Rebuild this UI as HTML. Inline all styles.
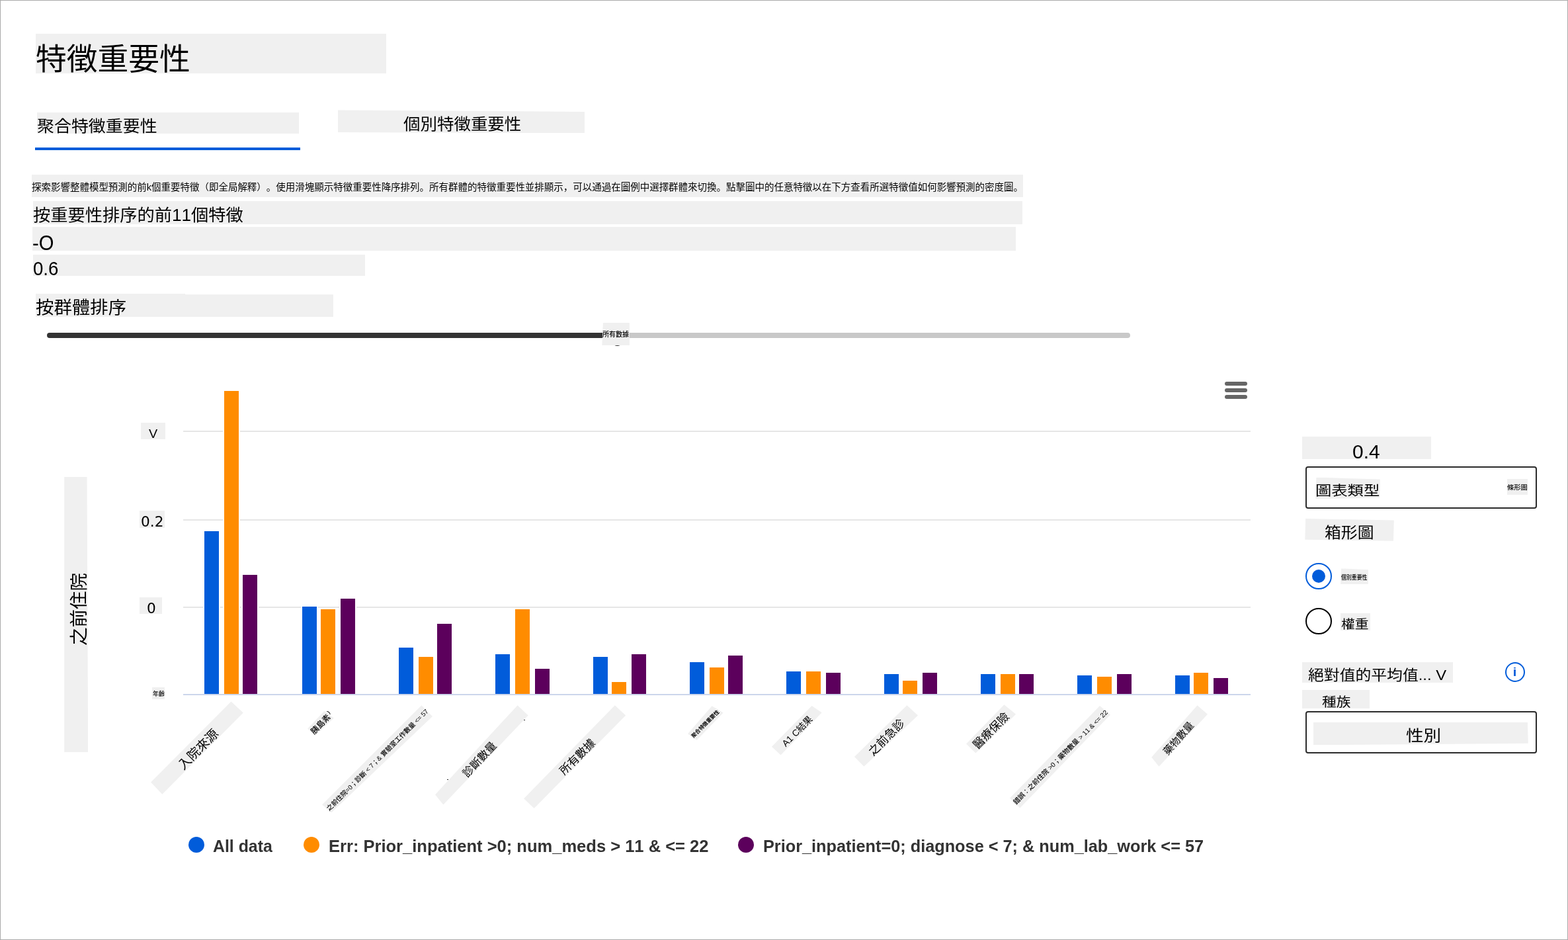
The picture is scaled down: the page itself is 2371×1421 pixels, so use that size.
<!DOCTYPE html>
<html>
<head>
<meta charset="utf-8">
<title>特徵重要性</title>
<style>
html,body{margin:0;padding:0;}
body{width:2371px;height:1421px;overflow:hidden;background:#ffffff;position:relative;font-family:'Liberation Sans', 'Noto Sans CJK JP', sans-serif;color:#000;font-weight:400;text-spacing-trim:space-all;font-kerning:none;}
#frame{position:absolute;left:0;top:0;width:2371px;height:1421px;box-sizing:border-box;border:1px solid #aaa;pointer-events:none;}
.b{position:absolute;}
.t{position:absolute;white-space:nowrap;}
</style>
</head>
<body>
<div class="b" style="left:54.00px;top:51.00px;width:530.00px;height:60.00px;background:#f0f0f0;"></div>
<div class="t" style="left:54.26px;top:66.20px;font-size:46.02px;line-height:46.02px;font-family:'Liberation Sans', 'Noto Sans CJK JP', sans-serif;font-weight:400;transform:scaleX(1.0156);transform-origin:0 0;">特徵重要性</div>
<div class="b" style="left:55.80px;top:170.10px;width:396.20px;height:32.10px;background:#f0f0f0;"></div>
<div class="t" style="left:55.54px;top:178.97px;font-size:24.19px;line-height:24.19px;font-family:'Liberation Sans', 'Noto Sans CJK JP', sans-serif;font-weight:400;transform:scaleX(1.0728);transform-origin:0 0;">聚合特徵重要性</div>
<div class="b" style="left:53.00px;top:223.00px;width:401.00px;height:4.00px;background:#015cda;"></div>
<div class="b" style="left:511.00px;top:166.40px;width:373.10px;height:35.10px;background:#f0f0f0;clip-path:polygon(0.00px 0.00px,373.10px 2.50px,373.10px 35.10px,0.00px 33.70px);"></div>
<div class="t" style="left:609.56px;top:176.42px;font-size:24.06px;line-height:24.06px;font-family:'Liberation Sans', 'Noto Sans CJK JP', sans-serif;font-weight:400;transform:scaleX(1.0592);transform-origin:0 0;">個別特徵重要性</div>
<div class="b" style="left:48.00px;top:264.00px;width:1499.00px;height:34.00px;background:#f0f0f0;"></div>
<div class="t" style="left:48.01px;top:276.37px;font-size:14.21px;line-height:14.21px;font-family:'Liberation Sans', 'Noto Sans CJK JP', sans-serif;font-weight:400;transform:scaleX(1.0197);transform-origin:0 0;">探索影響整體模型預測的前k個重要特徵（即全局解釋）。使用滑塊顯示特徵重要性降序排列。所有群體的特徵重要性並排顯示，可以通過在圖例中選擇群體來切換。點擊圖中的任意特徵以在下方查看所選特徵值如何影響預測的密度圖。</div>
<div class="b" style="left:50.20px;top:304.40px;width:1495.80px;height:34.30px;background:#f0f0f0;"></div>
<div class="t" style="left:49.94px;top:313.34px;font-size:25.21px;line-height:25.21px;font-family:'Liberation Sans', 'Noto Sans CJK JP', sans-serif;font-weight:400;transform:scaleX(1.0411);transform-origin:0 0;">按重要性排序的前11個特徵</div>
<div class="b" style="left:49.00px;top:343.20px;width:1487.00px;height:35.50px;background:#f0f0f0;"></div>
<div class="t" style="left:48.72px;top:351.99px;font-size:31.77px;line-height:31.77px;font-family:'Liberation Sans', 'Noto Sans CJK JP', sans-serif;font-weight:400;transform:scaleX(0.9192);transform-origin:0 0;">-O</div>
<div class="b" style="left:50.00px;top:385.30px;width:501.70px;height:31.70px;background:#f0f0f0;"></div>
<div class="t" style="left:49.61px;top:391.52px;font-size:28.93px;line-height:28.93px;font-family:'Liberation Sans', 'Noto Sans CJK JP', sans-serif;font-weight:400;transform:scaleX(0.9548);transform-origin:0 0;">0.6</div>
<div class="b" style="left:54.10px;top:443.70px;width:449.80px;height:35.20px;background:#f0f0f0;clip-path:polygon(0.00px 0.00px,225.90px 0.00px,225.90px 1.50px,449.80px 1.50px,449.80px 35.20px,0.00px 35.20px);"></div>
<div class="t" style="left:53.52px;top:452.12px;font-size:26.28px;line-height:26.28px;font-family:'Liberation Sans', 'Noto Sans CJK JP', sans-serif;font-weight:400;transform:scaleX(1.0446);transform-origin:0 0;">按群體排序</div>
<div class="b" style="left:71px;top:503px;width:845px;height:8px;background:#333;border-radius:4px 0 0 4px;"></div>
<div class="b" style="left:940px;top:503px;width:769px;height:8px;background:#c8c8c8;border-radius:0 4px 4px 0;"></div>
<div class="b" style="left:927.5px;top:515.5px;width:11px;height:7.5px;background:#333;border-radius:50%;"></div>
<div class="b" style="left:910.30px;top:488.00px;width:41.50px;height:34.00px;background:#f0f0f0;clip-path:polygon(1.60px 0.00px,41.50px 0.00px,41.50px 34.00px,0.00px 34.00px);"></div>
<div class="t" style="left:911.11px;top:501.31px;font-size:10.31px;line-height:10.31px;font-family:'Liberation Sans', 'Noto Sans CJK JP', sans-serif;font-weight:500;transform:scaleX(0.9735);transform-origin:0 0;">所有數據</div>
<div class="b" style="left:277px;top:651px;width:1614px;height:2px;background:#e6e6e6;"></div>
<div class="b" style="left:277px;top:785px;width:1614px;height:2px;background:#e6e6e6;"></div>
<div class="b" style="left:277px;top:917px;width:1614px;height:2px;background:#e6e6e6;"></div>
<div class="b" style="left:307px;top:801px;width:26px;height:248px;background:#ffffff;"></div>
<div class="b" style="left:337px;top:589px;width:26px;height:460px;background:#ffffff;"></div>
<div class="b" style="left:365px;top:867px;width:26px;height:182px;background:#ffffff;"></div>
<div class="b" style="left:309px;top:803px;width:22px;height:246px;background:#015cda;"></div>
<div class="b" style="left:339px;top:591px;width:22px;height:458px;background:#ff8c00;"></div>
<div class="b" style="left:367px;top:869px;width:22px;height:180px;background:#5c005c;"></div>
<div class="b" style="left:455px;top:915px;width:26px;height:134px;background:#ffffff;"></div>
<div class="b" style="left:483px;top:919px;width:26px;height:130px;background:#ffffff;"></div>
<div class="b" style="left:513px;top:903px;width:26px;height:146px;background:#ffffff;"></div>
<div class="b" style="left:457px;top:917px;width:22px;height:132px;background:#015cda;"></div>
<div class="b" style="left:485px;top:921px;width:22px;height:128px;background:#ff8c00;"></div>
<div class="b" style="left:515px;top:905px;width:22px;height:144px;background:#5c005c;"></div>
<div class="b" style="left:601px;top:977px;width:26px;height:72px;background:#ffffff;"></div>
<div class="b" style="left:631px;top:991px;width:26px;height:58px;background:#ffffff;"></div>
<div class="b" style="left:659px;top:941px;width:26px;height:108px;background:#ffffff;"></div>
<div class="b" style="left:603px;top:979px;width:22px;height:70px;background:#015cda;"></div>
<div class="b" style="left:633px;top:993px;width:22px;height:56px;background:#ff8c00;"></div>
<div class="b" style="left:661px;top:943px;width:22px;height:106px;background:#5c005c;"></div>
<div class="b" style="left:747px;top:987px;width:26px;height:62px;background:#ffffff;"></div>
<div class="b" style="left:777px;top:919px;width:26px;height:130px;background:#ffffff;"></div>
<div class="b" style="left:807px;top:1009px;width:26px;height:40px;background:#ffffff;"></div>
<div class="b" style="left:749px;top:989px;width:22px;height:60px;background:#015cda;"></div>
<div class="b" style="left:779px;top:921px;width:22px;height:128px;background:#ff8c00;"></div>
<div class="b" style="left:809px;top:1011px;width:22px;height:38px;background:#5c005c;"></div>
<div class="b" style="left:895px;top:991px;width:26px;height:58px;background:#ffffff;"></div>
<div class="b" style="left:923px;top:1029px;width:26px;height:20px;background:#ffffff;"></div>
<div class="b" style="left:953px;top:987px;width:26px;height:62px;background:#ffffff;"></div>
<div class="b" style="left:897px;top:993px;width:22px;height:56px;background:#015cda;"></div>
<div class="b" style="left:925px;top:1031px;width:22px;height:18px;background:#ff8c00;"></div>
<div class="b" style="left:955px;top:989px;width:22px;height:60px;background:#5c005c;"></div>
<div class="b" style="left:1041px;top:999px;width:26px;height:50px;background:#ffffff;"></div>
<div class="b" style="left:1071px;top:1007px;width:26px;height:42px;background:#ffffff;"></div>
<div class="b" style="left:1099px;top:989px;width:26px;height:60px;background:#ffffff;"></div>
<div class="b" style="left:1043px;top:1001px;width:22px;height:48px;background:#015cda;"></div>
<div class="b" style="left:1073px;top:1009px;width:22px;height:40px;background:#ff8c00;"></div>
<div class="b" style="left:1101px;top:991px;width:22px;height:58px;background:#5c005c;"></div>
<div class="b" style="left:1187px;top:1013px;width:26px;height:36px;background:#ffffff;"></div>
<div class="b" style="left:1217px;top:1013px;width:26px;height:36px;background:#ffffff;"></div>
<div class="b" style="left:1247px;top:1015px;width:26px;height:34px;background:#ffffff;"></div>
<div class="b" style="left:1189px;top:1015px;width:22px;height:34px;background:#015cda;"></div>
<div class="b" style="left:1219px;top:1015px;width:22px;height:34px;background:#ff8c00;"></div>
<div class="b" style="left:1249px;top:1017px;width:22px;height:32px;background:#5c005c;"></div>
<div class="b" style="left:1335px;top:1017px;width:26px;height:32px;background:#ffffff;"></div>
<div class="b" style="left:1363px;top:1027px;width:26px;height:22px;background:#ffffff;"></div>
<div class="b" style="left:1393px;top:1015px;width:26px;height:34px;background:#ffffff;"></div>
<div class="b" style="left:1337px;top:1019px;width:22px;height:30px;background:#015cda;"></div>
<div class="b" style="left:1365px;top:1029px;width:22px;height:20px;background:#ff8c00;"></div>
<div class="b" style="left:1395px;top:1017px;width:22px;height:32px;background:#5c005c;"></div>
<div class="b" style="left:1481px;top:1017px;width:26px;height:32px;background:#ffffff;"></div>
<div class="b" style="left:1511px;top:1017px;width:26px;height:32px;background:#ffffff;"></div>
<div class="b" style="left:1539px;top:1017px;width:26px;height:32px;background:#ffffff;"></div>
<div class="b" style="left:1483px;top:1019px;width:22px;height:30px;background:#015cda;"></div>
<div class="b" style="left:1513px;top:1019px;width:22px;height:30px;background:#ff8c00;"></div>
<div class="b" style="left:1541px;top:1019px;width:22px;height:30px;background:#5c005c;"></div>
<div class="b" style="left:1627px;top:1019px;width:26px;height:30px;background:#ffffff;"></div>
<div class="b" style="left:1657px;top:1021px;width:26px;height:28px;background:#ffffff;"></div>
<div class="b" style="left:1687px;top:1017px;width:26px;height:32px;background:#ffffff;"></div>
<div class="b" style="left:1629px;top:1021px;width:22px;height:28px;background:#015cda;"></div>
<div class="b" style="left:1659px;top:1023px;width:22px;height:26px;background:#ff8c00;"></div>
<div class="b" style="left:1689px;top:1019px;width:22px;height:30px;background:#5c005c;"></div>
<div class="b" style="left:1775px;top:1019px;width:26px;height:30px;background:#ffffff;"></div>
<div class="b" style="left:1803px;top:1015px;width:26px;height:34px;background:#ffffff;"></div>
<div class="b" style="left:1833px;top:1023px;width:26px;height:26px;background:#ffffff;"></div>
<div class="b" style="left:1777px;top:1021px;width:22px;height:28px;background:#015cda;"></div>
<div class="b" style="left:1805px;top:1017px;width:22px;height:32px;background:#ff8c00;"></div>
<div class="b" style="left:1835px;top:1025px;width:22px;height:24px;background:#5c005c;"></div>
<div class="b" style="left:277px;top:1049px;width:1614px;height:2px;background:#ccd6eb;"></div>
<div class="b" style="left:213.10px;top:639.00px;width:36.70px;height:25.00px;background:#f0f0f0;"></div>
<div class="t" style="left:225.30px;top:646.00px;font-size:19.20px;line-height:19.20px;font-family:'Liberation Sans', 'Noto Sans CJK JP', sans-serif;font-weight:400;transform:scaleX(1.0317);transform-origin:0 0;">V</div>
<div class="b" style="left:211.00px;top:771.50px;width:38.00px;height:26.00px;background:#f0f0f0;"></div>
<div class="t" style="left:212.86px;top:778.62px;font-size:20.90px;line-height:20.90px;font-family:'DejaVu Sans', 'Liberation Sans', sans-serif;font-weight:400;transform:scaleX(1.0352);transform-origin:0 0;">0.2</div>
<div class="b" style="left:210.90px;top:902.70px;width:34.20px;height:25.10px;background:#f0f0f0;"></div>
<div class="t" style="left:221.53px;top:910.04px;font-size:20.46px;line-height:20.46px;font-family:'DejaVu Sans', 'Liberation Sans', sans-serif;font-weight:400;transform:scaleX(1.0596);transform-origin:0 0;">0</div>
<div class="b" style="left:230.30px;top:1038.90px;width:18.60px;height:18.10px;background:#f0f0f0;"></div>
<div class="t" style="left:230.98px;top:1044.53px;font-size:8.71px;line-height:8.71px;font-family:'Liberation Sans', 'Noto Sans CJK JP', sans-serif;font-weight:500;transform:scaleX(1.0260);transform-origin:0 0;">年齡</div>
<div class="b" style="left:97.20px;top:721.00px;width:36.00px;height:416.00px;background:#f0f0f0;clip-path:polygon(0.00px 0.00px,34.30px 0.00px,36.00px 416.00px,0.00px 416.00px);"></div>
<div class="t" style="left:120.24px;top:920.70px;font-size:27.42px;line-height:27.42px;transform:translate(-50%,-50%) rotate(-90deg);transform-origin:50% 50%;font-family:'Liberation Sans', 'Noto Sans CJK JP', sans-serif;font-weight:400;">之前住院</div>
<div class="b" style="left:1852px;top:577px;width:34px;height:6px;background:#666;border-radius:3px;"></div>
<div class="b" style="left:1852px;top:587px;width:34px;height:6px;background:#666;border-radius:3px;"></div>
<div class="b" style="left:1852px;top:597px;width:34px;height:6px;background:#666;border-radius:3px;"></div>
<div class="b" style="left:228.10px;top:1060.40px;width:139.70px;height:140.30px;background:#f0f0f0;clip-path:polygon(0.00px 122.20px,121.40px 0.00px,139.70px 17.00px,17.20px 140.30px);"></div>
<div class="t" style="left:300.05px;top:1132.95px;font-size:19.14px;line-height:19.14px;transform:translate(-50%,-50%) rotate(-45deg);transform-origin:50% 50%;font-family:'Liberation Sans', 'Noto Sans CJK JP', sans-serif;font-weight:400;">入院來源</div>
<div class="b" style="left:465.10px;top:1075.00px;width:39.70px;height:36.90px;background:#f0f0f0;clip-path:polygon(0.00px 26.50px,25.00px 0.00px,39.70px 10.40px,11.50px 36.90px);"></div>
<div class="t" style="left:485.44px;top:1094.86px;font-size:12.10px;line-height:12.10px;transform:translate(-50%,-50%) rotate(-45deg);transform-origin:50% 50%;font-family:'Liberation Sans', 'Noto Sans CJK JP', sans-serif;font-weight:500;">胰島素</div>
<div class="b" style="left:487.00px;top:1066.20px;width:166.90px;height:162.10px;background:#f0f0f0;clip-path:polygon(0.00px 150.30px,150.40px 0.00px,166.90px 16.90px,14.40px 162.10px);"></div>
<div class="t" style="left:570.55px;top:1149.43px;font-size:9.83px;line-height:9.83px;transform:translate(-50%,-50%) rotate(-45deg);transform-origin:50% 50%;font-family:'Liberation Sans', 'Noto Sans CJK JP', sans-serif;font-weight:500;">之前住院=0；診斷 &lt; 7；&amp; 實驗室工作數量 &lt;= 57</div>
<div class="t" style="left:496.56px;top:1076.96px;font-size:7.55px;line-height:7.55px;transform:translate(-50%,-50%) rotate(-45deg);transform-origin:50% 50%;font-family:'Liberation Sans', 'Noto Sans CJK JP', sans-serif;font-weight:700;">)</div>
<div class="b" style="left:676.1px;top:1177.6px;width:1.8px;height:1.8px;border-radius:50%;background:#111;"></div>
<div class="b" style="left:791.9px;top:1087.6999999999998px;width:1.8px;height:1.8px;border-radius:50%;background:#111;"></div>
<div class="b" style="left:841.9px;top:1172.5px;width:1.8px;height:1.8px;border-radius:50%;background:#111;"></div>
<div class="b" style="left:658.00px;top:1066.20px;width:140.70px;height:150.30px;background:#f0f0f0;clip-path:polygon(0.00px 135.10px,124.60px 0.00px,140.70px 15.20px,12.30px 150.30px);"></div>
<div class="t" style="left:724.68px;top:1148.09px;font-size:16.42px;line-height:16.42px;transform:translate(-50%,-50%) rotate(-47deg);transform-origin:50% 50%;font-family:'Liberation Sans', 'Noto Sans CJK JP', sans-serif;font-weight:400;">診斷數量</div>
<div class="b" style="left:792.10px;top:1066.20px;width:154.00px;height:155.90px;background:#f0f0f0;clip-path:polygon(0.00px 141.00px,137.70px 0.00px,154.00px 15.20px,15.50px 155.90px);"></div>
<div class="t" style="left:873.86px;top:1144.79px;font-size:16.91px;line-height:16.91px;transform:translate(-50%,-50%) rotate(-45deg);transform-origin:50% 50%;font-family:'Liberation Sans', 'Noto Sans CJK JP', sans-serif;font-weight:400;">所有數據</div>
<div class="b" style="left:1040.00px;top:1067.20px;width:53.70px;height:51.70px;background:#f0f0f0;clip-path:polygon(0.00px 42.10px,36.50px 0.00px,53.70px 10.20px,13.50px 51.70px);"></div>
<div class="t" style="left:1066.84px;top:1094.60px;font-size:7.96px;line-height:7.96px;transform:translate(-50%,-50%) rotate(-45deg);transform-origin:50% 50%;font-family:'Liberation Sans', 'Noto Sans CJK JP', sans-serif;font-weight:700;">聚合特徵重要性</div>
<div class="b" style="left:1167.00px;top:1067.00px;width:75.70px;height:74.40px;background:#f0f0f0;clip-path:polygon(0.00px 61.70px,60.50px 0.00px,75.70px 10.20px,13.50px 74.40px);"></div>
<div class="t" style="left:1205.84px;top:1105.90px;font-size:13.83px;line-height:13.83px;transform:translate(-50%,-50%) rotate(-45deg);transform-origin:50% 50%;font-family:'Liberation Sans', 'Noto Sans CJK JP', sans-serif;font-weight:400;">A1 C結果</div>
<div class="b" style="left:1292.00px;top:1066.20px;width:96.00px;height:92.60px;background:#f0f0f0;clip-path:polygon(0.00px 77.70px,79.40px 0.00px,96.00px 15.20px,14.40px 92.60px);"></div>
<div class="t" style="left:1340.74px;top:1115.41px;font-size:17.24px;line-height:17.24px;transform:translate(-50%,-50%) rotate(-45deg);transform-origin:50% 50%;font-family:'Liberation Sans', 'Noto Sans CJK JP', sans-serif;font-weight:400;">之前急診</div>
<div class="b" style="left:1461.00px;top:1065.30px;width:75.10px;height:73.20px;background:#f0f0f0;clip-path:polygon(0.00px 59.20px,57.40px 0.00px,75.10px 14.40px,14.30px 73.20px);"></div>
<div class="t" style="left:1498.77px;top:1105.46px;font-size:17.30px;line-height:17.30px;transform:translate(-50%,-50%) rotate(-45deg);transform-origin:50% 50%;font-family:'Liberation Sans', 'Noto Sans CJK JP', sans-serif;font-weight:400;">醫療保險</div>
<div class="b" style="left:1527.00px;top:1067.00px;width:152.10px;height:154.60px;background:#f0f0f0;clip-path:polygon(0.00px 139.40px,136.00px 0.00px,152.10px 13.50px,15.20px 154.60px);"></div>
<div class="t" style="left:1604.08px;top:1144.89px;font-size:10.13px;line-height:10.13px;transform:translate(-50%,-50%) rotate(-45deg);transform-origin:50% 50%;font-family:'Liberation Sans', 'Noto Sans CJK JP', sans-serif;font-weight:500;">錯誤：之前住院 &gt;0；藥物數量 &gt; 11 &amp; &lt;= 22</div>
<div class="b" style="left:1741.20px;top:1066.20px;width:84.80px;height:92.60px;background:#f0f0f0;clip-path:polygon(0.00px 78.50px,69.30px 0.00px,84.80px 13.50px,11.30px 92.60px);"></div>
<div class="t" style="left:1782.37px;top:1116.01px;font-size:15.13px;line-height:15.13px;transform:translate(-50%,-50%) rotate(-48.5deg);transform-origin:50% 50%;font-family:'Liberation Sans', 'Noto Sans CJK JP', sans-serif;font-weight:400;">藥物數量</div>
<div class="b" style="left:284.9px;top:1264.9px;width:24.2px;height:24.2px;border-radius:50%;background:#015cda;"></div>
<div class="t" style="left:321.72px;top:1265.74px;font-size:26.03px;line-height:26.03px;font-family:'Liberation Sans', sans-serif;font-weight:700;transform:scaleX(0.9557);transform-origin:0 0;color:#333;">All data</div>
<div class="b" style="left:459.2px;top:1264.9px;width:24.2px;height:24.2px;border-radius:50%;background:#ff8c00;"></div>
<div class="t" style="left:496.80px;top:1265.74px;font-size:26.03px;line-height:26.03px;font-family:'Liberation Sans', sans-serif;font-weight:700;transform:scaleX(0.9810);transform-origin:0 0;color:#333;">Err: Prior_inpatient &gt;0; num_meds &gt; 11 &amp; &lt;= 22</div>
<div class="b" style="left:1116.0px;top:1264.9px;width:24.2px;height:24.2px;border-radius:50%;background:#5c005c;"></div>
<div class="t" style="left:1154.32px;top:1265.74px;font-size:26.03px;line-height:26.03px;font-family:'Liberation Sans', sans-serif;font-weight:700;transform:scaleX(0.9719);transform-origin:0 0;color:#333;">Prior_inpatient=0; diagnose &lt; 7; &amp; num_lab_work &lt;= 57</div>
<div class="b" style="left:1969.00px;top:660.00px;width:195.00px;height:34.00px;background:#f0f0f0;"></div>
<div class="t" style="left:2045.10px;top:668.26px;font-size:29.44px;line-height:29.44px;font-family:'Liberation Sans', 'Noto Sans CJK JP', sans-serif;font-weight:400;transform:scaleX(1.0171);transform-origin:0 0;">0.4</div>
<div class="b" style="left:1974px;top:705px;width:350px;height:64px;box-sizing:border-box;border:2px solid #2b2b2b;border-radius:4px;"></div>
<div class="b" style="left:1989.30px;top:721.60px;width:97.50px;height:32.70px;background:#f0f0f0;clip-path:polygon(1.10px 0.00px,97.50px 3.00px,96.90px 31.10px,0.00px 32.70px);"></div>
<div class="t" style="left:1989.10px;top:732.00px;font-size:20.63px;line-height:20.63px;font-family:'Liberation Sans', 'Noto Sans CJK JP', sans-serif;font-weight:400;transform:scaleX(1.1784);transform-origin:0 0;">圖表類型</div>
<div class="b" style="left:2279.00px;top:724.00px;width:31.00px;height:23.50px;background:#f0f0f0;"></div>
<div class="t" style="left:2279.14px;top:732.00px;font-size:9.60px;line-height:9.60px;font-family:'Liberation Sans', 'Noto Sans CJK JP', sans-serif;font-weight:500;transform:scaleX(1.0645);transform-origin:0 0;">條形圖</div>
<div class="b" style="left:1973.30px;top:784.00px;width:134.50px;height:33.80px;background:#f0f0f0;clip-path:polygon(0.90px 0.00px,134.50px 2.60px,133.70px 33.80px,0.00px 31.80px);"></div>
<div class="t" style="left:2003.41px;top:794.41px;font-size:22.95px;line-height:22.95px;font-family:'Liberation Sans', 'Noto Sans CJK JP', sans-serif;font-weight:400;transform:scaleX(1.0832);transform-origin:0 0;">箱形圖</div>
<div class="b" style="left:1974px;top:851px;width:40px;height:40px;box-sizing:border-box;border:2px solid #015cda;border-radius:50%;"></div>
<div class="b" style="left:1984px;top:861px;width:20px;height:20px;background:#015cda;border-radius:50%;"></div>
<div class="b" style="left:2027.20px;top:859.40px;width:41.80px;height:23.80px;background:#f0f0f0;clip-path:polygon(0.80px 0.00px,20.30px 0.90px,41.80px 1.80px,41.60px 23.80px,0.00px 23.50px);"></div>
<div class="t" style="left:2027.88px;top:868.00px;font-size:9.60px;line-height:9.60px;font-family:'Liberation Sans', 'Noto Sans CJK JP', sans-serif;font-weight:500;transform:scaleX(0.8228);transform-origin:0 0;">個別重要性</div>
<div class="b" style="left:1974px;top:919px;width:40px;height:40px;box-sizing:border-box;border:2px solid #000;border-radius:50%;"></div>
<div class="b" style="left:2027.00px;top:927.00px;width:45.00px;height:26.00px;background:#f0f0f0;"></div>
<div class="t" style="left:2028.35px;top:934.57px;font-size:18.49px;line-height:18.49px;font-family:'Liberation Sans', 'Noto Sans CJK JP', sans-serif;font-weight:400;transform:scaleX(1.1262);transform-origin:0 0;">權重</div>
<div class="b" style="left:1969.10px;top:1001.00px;width:227.90px;height:31.00px;background:#f0f0f0;"></div>
<div class="t" style="left:1978.40px;top:1009.88px;font-size:21.17px;line-height:21.17px;font-family:'Liberation Sans', 'Noto Sans CJK JP', sans-serif;font-weight:400;transform:scaleX(1.1258);transform-origin:0 0;">絕對值的平均值... V</div>
<div class="b" style="left:2276px;top:1001px;width:30px;height:30px;box-sizing:border-box;border:2px solid #015cda;border-radius:50%;"></div>
<div class="t" style="left:2287.39px;top:1007.30px;font-size:18.87px;line-height:18.87px;font-family:'Liberation Sans', 'Noto Sans CJK JP', sans-serif;font-weight:400;transform:scaleX(1.6609);transform-origin:0 0;color:#015cda;">i</div>
<div class="b" style="left:1969.20px;top:1043.20px;width:102.00px;height:28.00px;background:#f0f0f0;"></div>
<div class="t" style="left:1999.13px;top:1052.05px;font-size:19.56px;line-height:19.56px;font-family:'Liberation Sans', 'Noto Sans CJK JP', sans-serif;font-weight:400;transform:scaleX(1.1083);transform-origin:0 0;">種族</div>
<div class="b" style="left:1974px;top:1075px;width:350px;height:64px;box-sizing:border-box;border:2px solid #2b2b2b;border-radius:4px;"></div>
<div class="b" style="left:1985.70px;top:1091.70px;width:325.10px;height:34.60px;background:#f0f0f0;clip-path:polygon(0.00px 0.40px,324.20px 0.00px,325.10px 32.10px,0.40px 34.60px);"></div>
<div class="t" style="left:2126.32px;top:1101.17px;font-size:23.13px;line-height:23.13px;font-family:'Liberation Sans', 'Noto Sans CJK JP', sans-serif;font-weight:400;transform:scaleX(1.1502);transform-origin:0 0;">性別</div>
<div id="frame"></div>
</body>
</html>
